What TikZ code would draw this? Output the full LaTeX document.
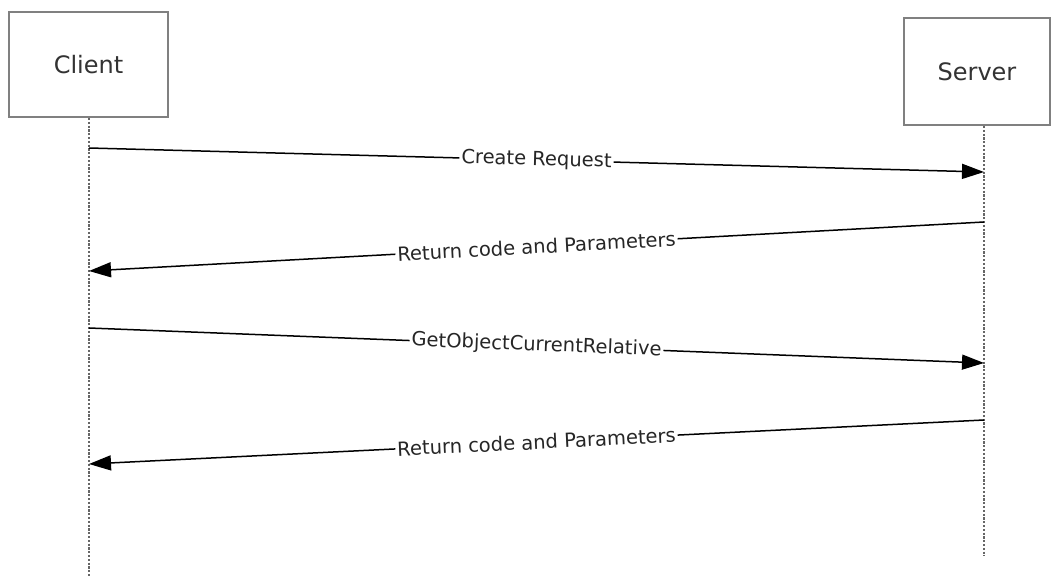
\documentclass[tikz,border=0pt]{standalone}
\usepackage{fontspec}
\setmainfont{DejaVu Sans}
\usetikzlibrary{arrows.meta}
\begin{document}
\begin{tikzpicture}[x=1pt,y=-1pt,
  actor/.style={draw=black!50,line width=2.6pt,fill=white,inner sep=0pt,font=\fontsize{24}{28}\selectfont,text=black!80},
  lifeline/.style={draw=black!60,line width=2.4pt,dash pattern=on 2.2pt off 1.6pt},
  msg/.style={draw=black,line width=1.5pt,-{Triangle[length=22pt,width=15pt]}},
  lbl/.style={fill=white,inner sep=2pt,font=\fontsize{19.5}{22}\selectfont,text=black!85,sloped,pos=0.5}]
\useasboundingbox (0,0) rectangle (1052,578);
\node[actor,minimum width=159pt,minimum height=105pt] (client) at (88.5,64.5) {Client};
\node[actor,minimum width=146pt,minimum height=107pt] (server) at (977,71.5) {Server};
\coordinate (cbot) at (89,578);
\coordinate (sbot) at (984,556);
\coordinate (ctop) at (89,118);
\coordinate (stop) at (984,126);
\draw[lifeline] (ctop) -- (cbot);
\draw[lifeline] (stop) -- (sbot);
\coordinate (c1) at (89,148);
\coordinate (s1) at (984,172);
\coordinate (s2) at (984,222);
\coordinate (c2) at (89,271);
\coordinate (c3) at (89,328);
\coordinate (s3) at (984,363);
\coordinate (s4) at (984,420);
\coordinate (c4) at (89,464);
\draw[msg] (c1) -- node[lbl] {Create Request} (s1);
\draw[msg] (s2) -- node[lbl] {Return code and Parameters} (c2);
\draw[msg] (c3) -- node[lbl] {GetObjectCurrentRelative} (s3);
\draw[msg] (s4) -- node[lbl] {Return code and Parameters} (c4);
\end{tikzpicture}
\end{document}
